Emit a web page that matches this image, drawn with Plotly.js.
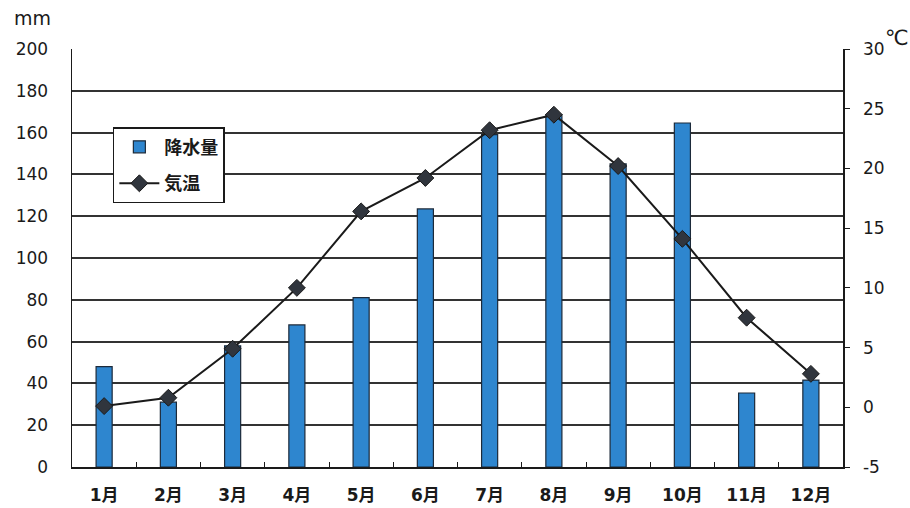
<!DOCTYPE html>
<html>
<head>
<meta charset="utf-8">
<script src="https://cdn.plot.ly/plotly-3.0.1.min.js"></script>
<style>html,body{margin:0;padding:0;background:#fff;}#chart{width:910px;height:508px;}</style>
</head>
<body>
<div id="chart"></div>
<script>
const months = ["1月","2月","3月","4月","5月","6月","7月","8月","9月","10月","11月","12月"];
const precipitation = [48, 31, 58, 68, 81, 123.5, 159, 168.5, 145, 164.6, 35.4, 41.6];
const temperature = [0.1, 0.8, 4.9, 10.0, 16.4, 19.2, 23.2, 24.5, 20.2, 14.1, 7.5, 2.8];
const leftTicks = [0, 20, 40, 60, 80, 100, 120, 140, 160, 180, 200];
const rightTicks = [-5, 0, 5, 10, 15, 20, 25, 30];

const fontFam = "DejaVu Sans, Noto Sans CJK JP, sans-serif";
const tickFont = {family: fontFam, size: 17, color: "#1a1a1a"};

const data = [
  {
    type: "bar", name: "降水量", x: months, y: precipitation,
    width: 0.25, legendgroup: "a",
    marker: {color: "#2e86cf", line: {color: "#1c2a3a", width: 1.2}},
    yaxis: "y"
  },
  {
    type: "scatter", mode: "lines+markers", name: "気温", x: months, y: temperature,
    legendgroup: "b",
    line: {color: "#1a1a1a", width: 2},
    marker: {symbol: "diamond", size: 13, color: "#30353d", line: {color: "#1a1a1a", width: 1}},
    yaxis: "y2"
  }
];

const layout = {
  width: 910, height: 508,
  margin: {l: 72, r: 67, t: 49, b: 41},
  paper_bgcolor: "#fff", plot_bgcolor: "#fff",
  showlegend: true,
  legend: {
    x: 0.053, y: 0.813, xanchor: "left", yanchor: "top",
    bgcolor: "#fff", bordercolor: "#1a1a1a", borderwidth: 1.5,
    font: {family: "Noto Sans CJK JP, sans-serif", size: 18, color: "#1a1a1a", weight: "bold"},
    tracegroupgap: 10, itemwidth: 40
  },
  xaxis: {
    type: "category", range: [-0.5, 11.5],
    showline: true, linecolor: "#1a1a1a", linewidth: 1.5,
    tickson: "boundaries", ticks: "inside", ticklen: 5, tickcolor: "#1a1a1a",
    tickfont: {family: "DejaVu Sans, Noto Sans CJK JP, sans-serif", size: 17, color: "#1a1a1a", weight: "bold"},
    ticklabelstandoff: 12,
    showgrid: false, mirror: false, fixedrange: true
  },
  yaxis: {
    range: [0, 200], tickvals: leftTicks, ticktext: leftTicks.map(String),
    showline: true, linecolor: "#1a1a1a", linewidth: 1.5,
    ticks: "", tickfont: tickFont, ticklabelstandoff: 19,
    showgrid: true, gridcolor: "#333", gridwidth: 2,
    zeroline: false
  },
  yaxis2: {
    overlaying: "y", side: "right",
    range: [-5, 30], tickvals: rightTicks, ticktext: rightTicks.map(String),
    showline: true, linecolor: "#1a1a1a", linewidth: 1.5,
    ticks: "outside", ticklen: 5, tickcolor: "#1a1a1a",
    tickfont: tickFont, ticklabelstandoff: 10,
    showgrid: false, zeroline: false
  },
  annotations: [
    {xref: "paper", yref: "paper", x: 0, y: 1.0, xshift: -40, yshift: 31, xanchor: "center", yanchor: "middle",
     text: "mm", showarrow: false, font: {family: fontFam, size: 19, color: "#1a1a1a"}},
    {xref: "paper", yref: "paper", x: 1.0, y: 1.0, xshift: 54, yshift: 11, xanchor: "center", yanchor: "middle",
     text: "℃", showarrow: false, font: {family: "DejaVu Sans, Noto Sans CJK JP, sans-serif", size: 21, color: "#1a1a1a"}}
  ]
};

Plotly.newPlot("chart", data, layout, {displayModeBar: false, staticPlot: true});
</script>
</body>
</html>
